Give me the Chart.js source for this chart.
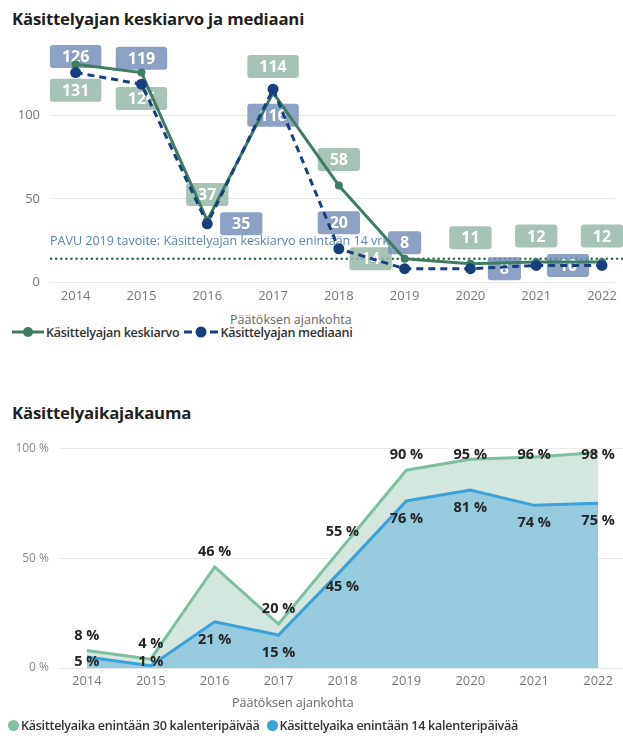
<!DOCTYPE html>
<html><head><meta charset="utf-8">
<script src="https://cdn.jsdelivr.net/npm/chart.js@4.4.1/dist/chart.umd.min.js"></script>
<style>
html,body{margin:0;padding:0;background:#fff;}
body{width:623px;height:738px;position:relative;overflow:hidden;font-family:"Open Sans",sans-serif;}
.abs{position:absolute;white-space:nowrap;}
.title{font-weight:700;font-size:16.8px;color:#1f1f1f;left:12px;letter-spacing:-0.2px;}
.axt{font-size:12.5px;color:#666;}
.leg{font-weight:600;font-size:12.6px;color:#333;display:flex;align-items:center;height:20px;letter-spacing:-0.3px;}
.leg span{display:inline-block;}
canvas{position:absolute;left:0;top:0;}
</style></head>
<body>
<div class="abs title" style="top:7px">Käsittelyajan keskiarvo ja mediaani</div>
<div style="position:absolute;left:0;top:0;width:623px;height:310px"><canvas id="c1" width="623" height="310"></canvas></div>
<div class="abs axt" style="top:311px;left:230px">Päätöksen ajankohta</div>
<div class="abs leg" style="top:322px;left:12px">
  <svg width="32" height="14" style="margin-right:2px"><line x1="0" y1="7" x2="32" y2="7" stroke="#3e7d62" stroke-width="3"/><circle cx="16" cy="7" r="5" fill="#3e7d62"/></svg>
  <span>Käsittelyajan keskiarvo</span>
  <svg width="34" height="14" style="margin:0 2px 0 5px"><line x1="0" y1="7" x2="8" y2="7" stroke="#163f7f" stroke-width="3"/><circle cx="17" cy="7" r="5.5" fill="#163f7f"/><line x1="26" y1="7" x2="34" y2="7" stroke="#163f7f" stroke-width="3"/></svg>
  <span>Käsittelyajan mediaani</span>
</div>

<div class="abs title" style="top:401px">Käsittelyaikajakauma</div>
<div style="position:absolute;left:0;top:430px;width:623px;height:265px"><canvas id="c2" width="623" height="265"></canvas></div>
<div class="abs axt" style="top:694px;left:232px">Päätöksen ajankohta</div>
<div class="abs leg" style="top:715px;left:7px">
  <svg width="13" height="13" style="margin-right:1px"><circle cx="6.5" cy="6.5" r="5.5" fill="#7dbf9f"/></svg>
  <span>Käsittelyaika enintään 30 kalenteripäivää</span>
  <svg width="13" height="13" style="margin:0 1px 0 6px"><circle cx="6.5" cy="6.5" r="5.5" fill="#3ba1d9"/></svg>
  <span>Käsittelyaika enintään 14 kalenteripäivää</span>
</div>

<script>
// ---------- data ----------
const years = [2014, 2015, 2016, 2017, 2018, 2019, 2020, 2021, 2022];
const meanDays = [131, 126, 37, 114, 58, 14, 11, 12, 12];
const medianDays = [126, 119, 35, 116, 20, 8, 8, 10, 10];
const targetDays = 14;
const targetText = 'PAVU 2019 tavoite: Käsittelyajan keskiarvo enintään 14 vrk';
const yTicksDays = [0, 50, 100];
const share30 = [8, 4, 46, 20, 55, 90, 95, 96, 98];
const share14 = [5, 1, 21, 15, 45, 76, 81, 74, 75];
const yTicksShare = [0, 50, 100];

// label placement (where each label sits relative to its point)
const meanPlace = ['below','below','above','above','above','left','above','above','above'];
const medianPlace = ['above','above','right','below','above','above','right',null,'left'];

Chart.defaults.font.family = "'Open Sans', sans-serif";
const pts = arr => years.map((x, i) => ({x, y: arr[i]}));

// ---------- top chart ----------
const boxPlugin = {
  id: 'boxLabels',
  beforeDatasetsDraw(chart) {
    const ctx = chart.ctx, a = chart.chartArea, ys = chart.scales.y;
    // target line
    const ty = ys.getPixelForValue(targetDays);
    ctx.save();
    ctx.strokeStyle = '#2f6e48';
    ctx.lineWidth = 2.5;
    ctx.lineCap = 'round';
    ctx.setLineDash([0.1, 5]);
    ctx.beginPath(); ctx.moveTo(a.left + 1, ty); ctx.lineTo(chart.width, ty); ctx.stroke();
    ctx.setLineDash([]);
    ctx.fillStyle = '#5a84b3';
    ctx.font = "12.5px 'Open Sans', sans-serif";
    ctx.textBaseline = 'middle';
    ctx.textAlign = 'left';
    ctx.fillText(targetText, a.left, ty - 17);
    // label boxes
    const specs = [
      {ds: 0, vals: meanDays, place: meanPlace, fill: 'rgba(152,184,169,0.85)'},
      {ds: 1, vals: medianDays, place: medianPlace, fill: 'rgba(121,144,186,0.85)'}
    ];
    ctx.font = "bold 16px 'Open Sans', sans-serif";
    ctx.textAlign = 'center';
    specs.forEach(s => {
      const meta = chart.getDatasetMeta(s.ds);
      meta.data.forEach((el, i) => {
        const p = s.place[i];
        if (!p) return;
        let cx = el.x, cy = el.y;
        if (p === 'above') cy -= 26;
        if (p === 'below') cy += 26;
        if (p === 'left') cx -= 34;
        if (p === 'right') cx += 34;
        const txt = String(s.vals[i]);
        const w = ctx.measureText(txt).width + 24, h = 23;
        if (cy - h / 2 < a.top + 4) cy = a.top + 4 + h / 2;
        ctx.fillStyle = s.fill;
        ctx.beginPath();
        ctx.roundRect(cx - w / 2, cy - h / 2, w, h, 3);
        ctx.fill();
        ctx.fillStyle = '#ffffff';
        ctx.fillText(txt, cx, cy + 1);
      });
    });
    ctx.restore();
  }
};

new Chart(document.getElementById('c1'), {
  type: 'line',
  data: {
    datasets: [
      {label: 'Käsittelyajan keskiarvo', data: pts(meanDays), order: 1,
       borderColor: '#3e7d62', backgroundColor: '#3e7d62', borderWidth: 3,
       pointRadius: 4, pointBorderWidth: 0, pointBackgroundColor: '#3e7d62', tension: 0},
      {label: 'Käsittelyajan mediaani', data: pts(medianDays), order: 0,
       borderColor: '#163f7f', backgroundColor: '#163f7f', borderWidth: 3, borderDash: [7, 5],
       pointRadius: 5.5, pointBorderWidth: 0, pointBackgroundColor: '#163f7f', tension: 0}
    ]
  },
  options: {
    responsive: false, animation: false,
    layout: {padding: {top: 41, right: 3, left: 0, bottom: 0}},
    plugins: {legend: {display: false}, tooltip: {enabled: false}},
    scales: {
      x: {type: 'linear', min: 2013.61, max: 2022.2,
          grid: {display: false, drawTicks: false}, border: {display: false},
          afterBuildTicks: s => { s.ticks = years.map(v => ({value: v})); },
          ticks: {callback: v => String(v), color: '#777', font: {size: 13}, padding: 6, maxRotation: 0, autoSkip: false},
          afterFit: s => { s.height = 28; }},
      y: {min: 0, max: 145,
          afterBuildTicks: s => { s.ticks = yTicksDays.map(v => ({value: v})); },
          grid: {color: '#e8e8e8', drawTicks: false}, border: {display: false},
          ticks: {color: '#777', font: {size: 13}, padding: 10},
          afterFit: s => { s.width = 50; }}
    }
  },
  plugins: [boxPlugin]
});

// ---------- bottom chart ----------
const pctPlugin = {
  id: 'pctLabels',
  afterDatasetsDraw(chart) {
    const ctx = chart.ctx, a = chart.chartArea;
    ctx.save();
    ctx.font = "bold 14.5px 'Open Sans', sans-serif";
    ctx.fillStyle = '#252423';
    ctx.textAlign = 'center';
    ctx.textBaseline = 'middle';
    const specs = [{ds: 0, vals: share30, off: -15}, {ds: 1, vals: share14, off: 18}];
    specs.forEach(s => {
      chart.getDatasetMeta(s.ds).data.forEach((el, i) => {
        let cy = el.y + s.off;
        cy = Math.max(a.top + 7, Math.min(a.bottom - 6, cy));
        ctx.fillText(s.vals[i] + ' %', el.x, cy);
      });
    });
    ctx.restore();
  }
};

new Chart(document.getElementById('c2'), {
  type: 'line',
  data: {
    datasets: [
      {label: 'Käsittelyaika enintään 30 kalenteripäivää', data: pts(share30), order: 1,
       borderColor: '#7dbf9f', backgroundColor: '#d4e7df', borderWidth: 3, fill: 'origin',
       pointRadius: 0, tension: 0},
      {label: 'Käsittelyaika enintään 14 kalenteripäivää', data: pts(share14), order: 0,
       borderColor: '#3ba1d9', backgroundColor: '#95cbdc', borderWidth: 3, fill: 'origin',
       pointRadius: 0, tension: 0}
    ]
  },
  options: {
    responsive: false, animation: false,
    layout: {padding: {top: 12, right: 0, left: 0, bottom: 0}},
    plugins: {legend: {display: false}, tooltip: {enabled: false}},
    scales: {
      x: {type: 'linear', min: 2013.58, max: 2022.39,
          grid: {display: false, drawTicks: false}, border: {display: false},
          afterBuildTicks: s => { s.ticks = years.map(v => ({value: v})); },
          ticks: {callback: v => String(v), color: '#777', font: {size: 13}, padding: 5, maxRotation: 0, autoSkip: false},
          afterFit: s => { s.height = 27; }},
      y: {min: 0, max: 100,
          afterBuildTicks: s => { s.ticks = yTicksShare.map(v => ({value: v})); },
          grid: {color: '#e8e8e8', drawTicks: false}, border: {display: false},
          ticks: {callback: v => v + ' %', color: '#888', font: {size: 12}, padding: 11},
          afterFit: s => { s.width = 60; }}
    }
  },
  plugins: [pctPlugin]
});
</script>
</body></html>
